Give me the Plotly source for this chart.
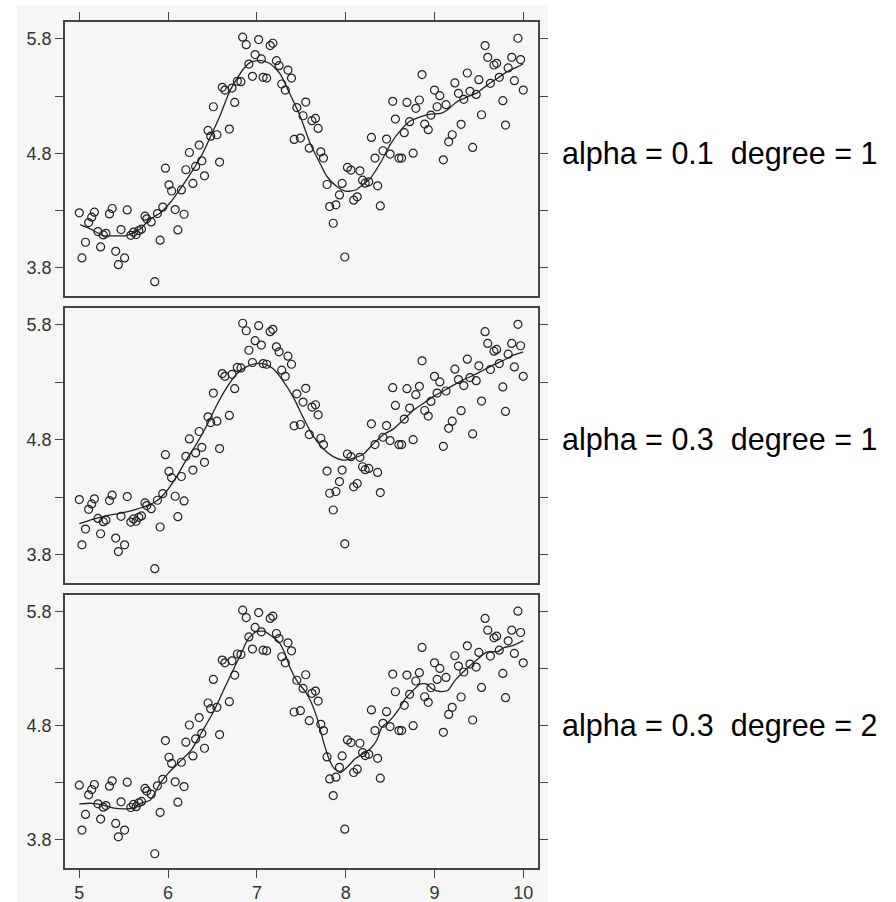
import plotly.graph_objects as go

# ---- observed data (same in all three panels) ----
x_obs = [5.00, 5.03, 5.07, 5.105, 5.14, 5.17, 5.21, 5.24, 5.27, 5.30, 5.34, 5.37, 5.41, 5.44, 5.47, 5.51,
         5.54, 5.58, 5.61, 5.64, 5.67, 5.70, 5.74, 5.76, 5.81, 5.85, 5.88, 5.91, 5.94, 5.97, 6.01, 6.04,
         6.08, 6.11, 6.15, 6.18, 6.20, 6.24, 6.28, 6.31, 6.35, 6.38, 6.41, 6.45, 6.48, 6.51, 6.55, 6.58,
         6.61, 6.64, 6.69, 6.72, 6.75, 6.78, 6.82, 6.84, 6.88, 6.91, 6.95, 6.98, 7.02, 7.05, 7.07, 7.11,
         7.15, 7.18, 7.22, 7.25, 7.28, 7.32, 7.35, 7.39, 7.42, 7.45, 7.49, 7.52, 7.55, 7.59, 7.62, 7.66,
         7.69, 7.72, 7.75, 7.79, 7.82, 7.86, 7.89, 7.93, 7.96, 7.99, 8.02, 8.06, 8.09, 8.13, 8.16, 8.19,
         8.22, 8.26, 8.29, 8.33, 8.36, 8.39, 8.42, 8.46, 8.50, 8.53, 8.56, 8.60, 8.63, 8.66, 8.69, 8.72,
         8.76, 8.79, 8.83, 8.86, 8.89, 8.93, 8.96, 9.00, 9.03, 9.06, 9.10, 9.13, 9.16, 9.20, 9.23, 9.27,
         9.30, 9.33, 9.37, 9.40, 9.43, 9.47, 9.50, 9.53, 9.57, 9.60, 9.63, 9.67, 9.70, 9.73, 9.77, 9.80,
         9.83, 9.87, 9.90, 9.94, 9.97, 10.00]
y_obs = [4.279, 3.885, 4.022, 4.194, 4.241, 4.285, 4.115, 3.981, 4.086, 4.100, 4.270, 4.317, 3.943, 3.826, 4.133, 3.885,
         4.305, 4.083, 4.110, 4.090, 4.124, 4.136, 4.250, 4.227, 4.200, 3.677, 4.273, 4.040, 4.330, 4.670, 4.524, 4.470,
         4.308, 4.130, 4.480, 4.267, 4.656, 4.807, 4.536, 4.685, 4.872, 4.734, 4.603, 5.000, 4.950, 5.207, 4.962, 4.723,
         5.377, 5.353, 5.012, 5.370, 5.245, 5.430, 5.426, 5.815, 5.750, 5.580, 5.473, 5.663, 5.794, 5.625, 5.464, 5.458,
         5.742, 5.762, 5.610, 5.566, 5.406, 5.353, 5.528, 5.458, 4.921, 5.200, 4.933, 5.128, 5.248, 4.845, 5.085, 5.105,
         5.017, 4.813, 4.758, 4.527, 4.334, 4.188, 4.349, 4.436, 4.536, 3.893, 4.676, 4.653, 4.390, 4.419, 4.647, 4.565,
         4.539, 4.550, 4.939, 4.758, 4.515, 4.340, 4.822, 4.924, 4.793, 5.254, 5.099, 4.758, 4.758, 4.980, 5.245, 5.076,
         4.801, 5.193, 5.266, 5.488, 5.055, 5.006, 5.134, 5.353, 5.207, 5.304, 4.743, 5.225, 4.900, 4.962, 5.415, 5.324,
         5.053, 5.272, 5.502, 5.342, 4.851, 5.315, 5.444, 5.137, 5.742, 5.639, 5.412, 5.572, 5.587, 5.464, 5.260, 5.047,
         5.546, 5.639, 5.435, 5.806, 5.619, 5.353]

# ---- fitted curves ----
fit1_x = [5.01, 5.10, 5.27, 5.40, 5.53, 5.68, 5.79, 5.91, 6.02, 6.13, 6.28, 6.39, 6.51, 6.58, 6.70, 6.85,
          6.93, 7.04, 7.15, 7.26, 7.37, 7.49, 7.60, 7.71, 7.79, 7.90, 8.01, 8.12, 8.17, 8.28, 8.40, 8.51,
          8.62, 8.73, 8.84, 8.96, 9.07, 9.14, 9.25, 9.37, 9.48, 9.59, 9.70, 9.81, 9.93, 10.0]
fit1_y = [4.177, 4.148, 4.081, 4.078, 4.081, 4.133, 4.220, 4.278, 4.365, 4.481, 4.655, 4.800, 5.000, 5.120, 5.351, 5.539,
          5.597, 5.612, 5.583, 5.496, 5.322, 5.120, 4.887, 4.713, 4.597, 4.510, 4.467, 4.481, 4.510, 4.583, 4.728, 4.887,
          5.003, 5.084, 5.119, 5.142, 5.148, 5.177, 5.249, 5.293, 5.328, 5.394, 5.452, 5.510, 5.554, 5.583]

fit2_x = [5.00, 5.15, 5.30, 5.45, 5.60, 5.75, 5.87, 5.98, 6.09, 6.20, 6.32, 6.43, 6.54, 6.66, 6.77, 6.88,
          6.99, 7.09, 7.18, 7.29, 7.41, 7.52, 7.63, 7.75, 7.86, 7.97, 8.09, 8.20, 8.31, 8.42, 8.54, 8.65,
          8.76, 8.88, 8.99, 9.10, 9.21, 9.33, 9.44, 9.55, 9.66, 9.78, 9.89, 10.0]
fit2_y = [4.069, 4.107, 4.136, 4.159, 4.185, 4.223, 4.267, 4.349, 4.472, 4.618, 4.764, 4.915, 5.090, 5.254, 5.371, 5.435,
          5.464, 5.458, 5.420, 5.318, 5.172, 4.997, 4.836, 4.720, 4.653, 4.623, 4.641, 4.676, 4.764, 4.842, 4.895, 4.974,
          5.055, 5.120, 5.178, 5.225, 5.274, 5.324, 5.362, 5.406, 5.450, 5.493, 5.537, 5.566]

fit3_x = [5.00, 5.13, 5.26, 5.39, 5.52, 5.61, 5.69, 5.80, 5.91, 6.00, 6.13, 6.26, 6.38, 6.51, 6.64, 6.73,
          6.82, 6.90, 6.99, 7.08, 7.16, 7.25, 7.31, 7.38, 7.46, 7.55, 7.61, 7.68, 7.74, 7.81, 7.87, 7.94,
          8.02, 8.11, 8.20, 8.28, 8.35, 8.41, 8.50, 8.59, 8.67, 8.76, 8.84, 8.91, 8.97, 9.06, 9.15, 9.23,
          9.32, 9.40, 9.49, 9.58, 9.64, 9.71, 9.79, 9.88, 10.0]
fit3_y = [4.114, 4.120, 4.106, 4.077, 4.071, 4.077, 4.120, 4.149, 4.295, 4.382, 4.484, 4.586, 4.746, 4.921, 5.139, 5.285,
          5.430, 5.561, 5.625, 5.630, 5.590, 5.532, 5.445, 5.299, 5.183, 5.096, 5.008, 4.863, 4.688, 4.513, 4.426, 4.390,
          4.440, 4.513, 4.557, 4.601, 4.673, 4.790, 4.848, 4.935, 5.037, 5.110, 5.168, 5.168, 5.125, 5.101, 5.110, 5.197,
          5.270, 5.328, 5.387, 5.445, 5.451, 5.451, 5.488, 5.503, 5.547]

panel_labels = ["alpha = 0.1 \u00a0degree = 1", "alpha = 0.3 \u00a0degree = 1", "alpha = 0.3 \u00a0degree = 2"]
y_tickvals = [3.8, 4.3, 4.8, 5.3, 5.8]
y_ticktext = ["3.8", "", "4.8", "", "5.8"]
x_tickvals = [5, 6, 7, 8, 9, 10]

W, H = 896, 902
INK = "#222222"
BG = "#f6f6f6"
FONT = "Liberation Sans, Arial, sans-serif"

panels_px = [(22, 296), (308, 583), (595, 868)]  # top, bottom in pixels
x_dom = [65 / W, 538 / W]

fig = go.Figure()
fits = [(fit1_x, fit1_y), (fit2_x, fit2_y), (fit3_x, fit3_y)]
for i in range(3):
    sfx = "" if i == 0 else str(i + 1)
    fig.add_trace(go.Scatter(x=x_obs, y=y_obs, mode="markers", xaxis="x" + sfx, yaxis="y" + sfx,
                             marker=dict(symbol="circle-open", size=8, color=INK, line=dict(width=1.2, color=INK)),
                             showlegend=False, hoverinfo="skip"))
    fx, fy = fits[i]
    fig.add_trace(go.Scatter(x=fx, y=fy, mode="lines", xaxis="x" + sfx, yaxis="y" + sfx,
                             line=dict(color=INK, width=1.3, shape="spline", smoothing=0.6),
                             showlegend=False, hoverinfo="skip"))

layout = dict(width=W, height=H, margin=dict(l=0, r=0, t=0, b=0),
              paper_bgcolor="white", plot_bgcolor=BG, showlegend=False,
              font=dict(family=FONT, color="#333", size=18))

for i in range(3):
    sfx = "" if i == 0 else str(i + 1)
    top_px, bot_px = panels_px[i]
    y_dom = [1 - bot_px / H, 1 - top_px / H]
    xa = dict(domain=x_dom, range=[4.839, 10.166], anchor="y" + sfx, showgrid=False, zeroline=False,
              showline=True, linecolor="#444", linewidth=1.5, mirror=True,
              tickvals=x_tickvals, tickcolor="#444", ticklen=8, tickwidth=1.2,
              tickfont=dict(family=FONT, size=18, color="#333"))
    if i == 0:
        xa.update(side="top", ticks="outside", showticklabels=False)
    elif i == 1:
        xa.update(ticks="", showticklabels=False)
    else:
        xa.update(ticks="outside", showticklabels=True, ticktext=[str(v) for v in x_tickvals])
    if i > 0:
        xa["matches"] = "x"
    ya = dict(domain=y_dom, range=[3.552, 5.948], anchor="x" + sfx, showgrid=False, zeroline=False,
              showline=True, linecolor="#444", linewidth=1.5, mirror="ticks",
              ticks="outside", tickvals=y_tickvals, ticktext=y_ticktext, ticklen=8, tickwidth=1.2,
              tickcolor="#444", tickfont=dict(family=FONT, size=18, color="#333"))
    layout["xaxis" + sfx] = xa
    layout["yaxis" + sfx] = ya

fig.update_layout(**layout)

fig.add_shape(type="rect", xref="paper", yref="paper", x0=17 / W, x1=548 / W, y0=0, y1=1 - 5 / H,
              fillcolor=BG, line=dict(width=0), layer="below")

for i in range(3):
    sfx = "" if i == 0 else str(i + 1)
    fig.add_annotation(text=panel_labels[i], xref="paper", yref="y" + sfx, x=560 / W, y=4.8,
                       xanchor="left", yanchor="middle", showarrow=False,
                       font=dict(family=FONT, size=30.5, color="black"))

fig.write_html("out.html", config={"displayModeBar": False},
               post_script="document.body.style.margin='0px';document.body.style.overflow='hidden';")
